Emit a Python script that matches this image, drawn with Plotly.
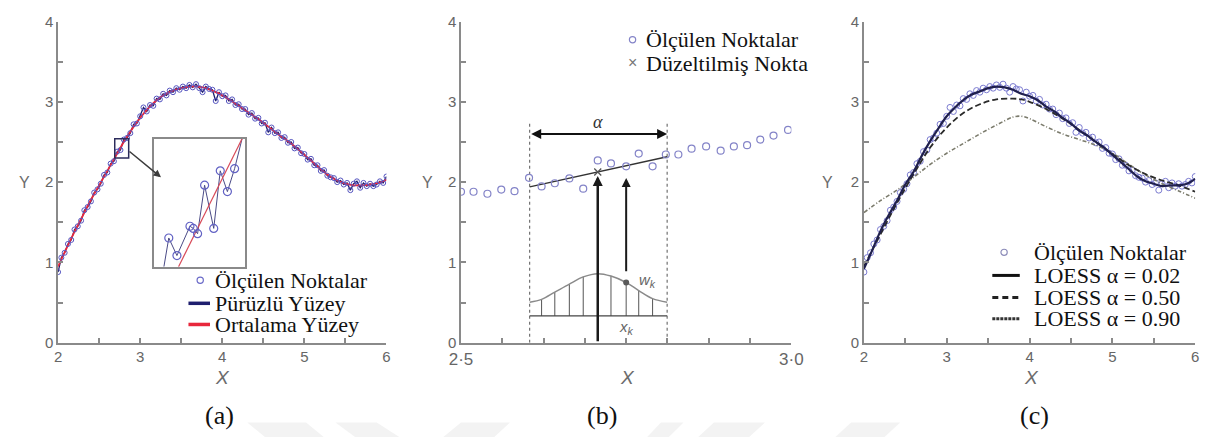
import plotly.graph_objects as go

W, H = 1219, 445

# ---------------- data ----------------
# measured surface profile (panels a and c)
meas_x = [2.00, 2.04, 2.08, 2.12, 2.16, 2.20, 2.24, 2.28, 2.32, 2.36,
          2.40, 2.44, 2.48, 2.52, 2.56, 2.60, 2.64, 2.68, 2.72, 2.76,
          2.80, 2.84, 2.88, 2.92, 2.96, 3.00, 3.04, 3.08, 3.12, 3.16,
          3.20, 3.24, 3.28, 3.32, 3.36, 3.40, 3.44, 3.48, 3.52, 3.56,
          3.60, 3.64, 3.68, 3.72, 3.76, 3.80, 3.84, 3.88, 3.92, 3.96,
          4.00, 4.04, 4.08, 4.12, 4.16, 4.20, 4.24, 4.28, 4.32, 4.36,
          4.40, 4.44, 4.48, 4.52, 4.56, 4.60, 4.64, 4.68, 4.72, 4.76,
          4.80, 4.84, 4.88, 4.92, 4.96, 5.00, 5.04, 5.08, 5.12, 5.16,
          5.20, 5.24, 5.28, 5.32, 5.36, 5.40, 5.44, 5.48, 5.52, 5.56,
          5.60, 5.64, 5.68, 5.72, 5.76, 5.80, 5.84, 5.88, 5.92, 5.96,
          6.00]
meas_y = [0.88, 1.06, 1.12, 1.23, 1.28, 1.41, 1.45, 1.52, 1.65, 1.69,
          1.76, 1.87, 1.91, 1.98, 2.09, 2.12, 2.23, 2.26, 2.38, 2.40,
          2.53, 2.55, 2.61, 2.72, 2.73, 2.82, 2.93, 2.88, 2.96, 2.95,
          3.04, 3.03, 3.10, 3.08, 3.14, 3.12, 3.17, 3.15, 3.19, 3.17,
          3.21, 3.18, 3.22, 3.17, 3.12, 3.19, 3.16, 3.15, 3.01, 3.12,
          3.07, 3.08, 3.01, 3.03, 2.96, 2.97, 2.91, 2.91, 2.84, 2.86,
          2.79, 2.80, 2.73, 2.74, 2.62, 2.68, 2.61, 2.62, 2.55, 2.56,
          2.49, 2.50, 2.42, 2.43, 2.36, 2.35, 2.28, 2.29, 2.21, 2.21,
          2.14, 2.15, 2.08, 2.06, 2.05, 2.00, 2.02, 1.97, 1.99, 1.90,
          1.98, 2.01, 1.93, 1.99, 1.95, 1.98, 1.95, 1.97, 2.01, 1.99,
          2.07]

# mean surface and LOESS fits on a 0.1 grid
grid_x = [2.0, 2.1, 2.2, 2.3, 2.4, 2.5, 2.6, 2.7, 2.8, 2.9,
          3.0, 3.1, 3.2, 3.3, 3.4, 3.5, 3.6, 3.7, 3.8, 3.9,
          4.0, 4.1, 4.2, 4.3, 4.4, 4.5, 4.6, 4.7, 4.8, 4.9,
          5.0, 5.1, 5.2, 5.3, 5.4, 5.5, 5.6, 5.7, 5.8, 5.9, 6.0]
mean_y = [0.95, 1.17, 1.38, 1.58, 1.78, 1.96, 2.14, 2.32, 2.50, 2.66,
          2.80, 2.92, 3.02, 3.09, 3.14, 3.17, 3.19, 3.19, 3.17, 3.13,
          3.08, 3.02, 2.95, 2.88, 2.81, 2.74, 2.66, 2.58, 2.51, 2.43,
          2.34, 2.25, 2.16, 2.08, 2.02, 1.98, 1.96, 1.96, 1.97, 1.99, 2.03]
loess_002 = [0.92, 1.15, 1.39, 1.59, 1.77, 1.97, 2.13, 2.33, 2.51, 2.67,
             2.82, 2.93, 3.02, 3.09, 3.13, 3.17, 3.19, 3.18, 3.15, 3.10,
             3.07, 3.02, 2.94, 2.88, 2.80, 2.73, 2.64, 2.58, 2.50, 2.43,
             2.34, 2.25, 2.16, 2.07, 2.01, 1.98, 1.95, 1.96, 1.96, 1.98, 2.04]
coarse_x = [2.0, 2.2, 2.4, 2.6, 2.8, 3.0, 3.2, 3.4, 3.6, 3.8, 3.9,
            4.0, 4.2, 4.4, 4.6, 4.8, 5.0, 5.2, 5.4, 5.6, 5.8, 6.0]
loess_050 = [0.95, 1.35, 1.74, 2.10, 2.43, 2.68, 2.86, 2.97, 3.03, 3.04, 3.03,
             3.00, 2.91, 2.79, 2.65, 2.50, 2.35, 2.21, 2.10, 2.02, 1.96, 1.88]
loess_090 = [1.62, 1.77, 1.90, 2.06, 2.22, 2.36, 2.48, 2.60, 2.71, 2.81, 2.82,
             2.79, 2.69, 2.60, 2.53, 2.46, 2.36, 2.22, 2.09, 1.98, 1.89, 1.80]

# zoomed window of panel (a)
inset_xr = [2.69, 2.86]
inset_yr = [2.30, 2.54]
inset_pts_x = [2.7173, 2.7325, 2.7568, 2.7629, 2.7710, 2.7841, 2.8011, 2.8133, 2.8266, 2.8400]
inset_pts_y = [2.354, 2.321, 2.376, 2.372, 2.362, 2.453, 2.372, 2.480, 2.441, 2.484]
inset_rough_x = [2.7082] + inset_pts_x + [2.8539]
inset_rough_y = [2.300] + inset_pts_y + [2.540]
inset_mean_x = [2.7355, 2.8539]
inset_mean_y = [2.300, 2.540]

# panel (b): local regression window
b_x = [2.500, 2.519, 2.540, 2.561, 2.581, 2.603, 2.622, 2.642, 2.664, 2.685,
       2.707, 2.727, 2.750, 2.769, 2.790, 2.810, 2.829, 2.849, 2.871, 2.893,
       2.913, 2.933, 2.953, 2.973, 2.995]
b_y = [1.880, 1.880, 1.855, 1.907, 1.887, 2.054, 1.946, 1.986, 2.046, 1.918,
       2.270, 2.233, 2.197, 2.356, 2.197, 2.344, 2.344, 2.416, 2.444, 2.392,
       2.444, 2.460, 2.530, 2.580, 2.650]
win_lo, win_hi = 2.604, 2.812
win_top = 2.76
span_y = 2.60
fit_x = [2.604, 2.812]
fit_y = [1.940, 2.316]
x_i, y_i_hat = 2.707, 2.126
x_k, y_k_hat = 2.750, 2.05
weight_base = 0.334
weight_x = [2.604, 2.622, 2.642, 2.664, 2.685, 2.707, 2.727, 2.750, 2.769, 2.790, 2.812]
weight_y = [0.505, 0.540, 0.630, 0.730, 0.820, 0.860, 0.830, 0.750, 0.650, 0.550, 0.505]
w_k = 0.75

# ---------------- helpers ----------------
def pxx(v):
    return v / W


def pxy(v):
    return 1 - v / H


AX = "#8a8a8a"
SANS = "Liberation Sans"
SERIF = "Liberation Serif"
TICKFONT = dict(family=SANS, size=15, color="#666666")
YDOM = [pxy(347), pxy(13)]


def axis(**kw):
    d = dict(showline=True, linecolor=AX, linewidth=1.5, ticks="inside", ticklen=5,
             tickwidth=1.5, tickcolor=AX, showgrid=False, zeroline=False,
             tickfont=TICKFONT, fixedrange=True)
    d.update(kw)
    return d


y_vals = [0, 0.5, 1, 1.5, 2, 2.5, 3, 3.5, 4]
y_text = ["0", "", "1", "", "2", "", "3", "", "4"]
x_vals = [2, 2.5, 3, 3.5, 4, 4.5, 5, 5.5, 6]
x_text = ["2", "", "3", "", "4", "", "5", "", "6"]
b_ticks = [2.5, 2.5625, 2.625, 2.6875, 2.75, 2.8125, 2.875, 2.9375, 3.0]
b_text = ["2·5", "", "", "", "", "", "", "", "3·0"]

NAVY = "#1e1e6e"
RED = "#e8283c"
PTS = "#5555c0"

fig = go.Figure()

# ---------------- panel (a) ----------------
fig.add_trace(go.Scatter(x=meas_x, y=meas_y, mode="lines", line=dict(color=NAVY, width=1.3),
                         xaxis="x", yaxis="y"))
fig.add_trace(go.Scatter(x=grid_x, y=mean_y, mode="lines", line=dict(color=RED, width=1.8, shape="spline"),
                         xaxis="x", yaxis="y"))
fig.add_trace(go.Scatter(x=meas_x, y=meas_y, mode="markers",
                         marker=dict(symbol="circle-open", size=5, color=PTS, line=dict(width=1)),
                         xaxis="x", yaxis="y"))

# inset
fig.add_trace(go.Scatter(x=inset_rough_x, y=inset_rough_y, mode="lines",
                         line=dict(color="#4a4a86", width=1), xaxis="x4", yaxis="y4"))
fig.add_trace(go.Scatter(x=inset_mean_x, y=inset_mean_y, mode="lines",
                         line=dict(color="#d84a58", width=1.2), xaxis="x4", yaxis="y4"))
fig.add_trace(go.Scatter(x=inset_pts_x, y=inset_pts_y, mode="markers",
                         marker=dict(symbol="circle-open", size=8, color="#6262c4", line=dict(width=1.2)),
                         xaxis="x4", yaxis="y4"))

# ---------------- panel (b) ----------------
hatch_x, hatch_y = [], []
for xv, yv in zip(weight_x[1:-1], weight_y[1:-1]):
    hatch_x += [xv, xv, None]
    hatch_y += [weight_base, yv, None]
fig.add_trace(go.Scatter(x=hatch_x, y=hatch_y, mode="lines", line=dict(color="#555555", width=1),
                         xaxis="x2", yaxis="y2"))
fig.add_trace(go.Scatter(x=[win_lo, win_hi], y=[weight_base, weight_base], mode="lines",
                         line=dict(color="#444444", width=1.2), xaxis="x2", yaxis="y2"))
fig.add_trace(go.Scatter(x=weight_x, y=weight_y, mode="lines",
                         line=dict(color="#8a8a8a", width=1.5, shape="spline"), xaxis="x2", yaxis="y2"))
for xv in (win_lo, win_hi):
    fig.add_trace(go.Scatter(x=[xv, xv], y=[0, win_top], mode="lines",
                             line=dict(color="#555555", width=1, dash="dot"), xaxis="x2", yaxis="y2"))
fig.add_trace(go.Scatter(x=fit_x, y=fit_y, mode="lines", line=dict(color="#333333", width=1.3),
                         xaxis="x2", yaxis="y2"))
fig.add_trace(go.Scatter(x=b_x, y=b_y, mode="markers",
                         marker=dict(symbol="circle-open", size=7, color="#8484c8", line=dict(width=1.2)),
                         xaxis="x2", yaxis="y2"))
fig.add_trace(go.Scatter(x=[x_i], y=[y_i_hat], mode="markers",
                         marker=dict(symbol="x-thin-open", size=7, color="#555555", line=dict(width=1.3)),
                         xaxis="x2", yaxis="y2"))
fig.add_trace(go.Scatter(x=[x_k], y=[w_k], mode="markers",
                         marker=dict(symbol="circle", size=6, color="#5a5a5a"),
                         xaxis="x2", yaxis="y2"))

# ---------------- panel (c) ----------------
fig.add_trace(go.Scatter(x=meas_x, y=meas_y, mode="markers",
                         marker=dict(symbol="circle-open", size=6, color="#7a7ad0", line=dict(width=1)),
                         xaxis="x3", yaxis="y3"))
fig.add_trace(go.Scatter(x=coarse_x, y=loess_090, mode="lines",
                         line=dict(color="#7b7b6c", width=1.6, dash="4px,2px,1px,2px", shape="spline"),
                         xaxis="x3", yaxis="y3"))
fig.add_trace(go.Scatter(x=coarse_x, y=loess_050, mode="lines",
                         line=dict(color="#2a2a2a", width=1.8, dash="6px,3px", shape="spline"),
                         xaxis="x3", yaxis="y3"))
fig.add_trace(go.Scatter(x=grid_x, y=loess_002, mode="lines",
                         line=dict(color="#20204e", width=2.2, shape="spline"),
                         xaxis="x3", yaxis="y3"))

# ---------------- annotations & shapes ----------------
ann = []
shapes = []


def text(xp, yp, s, size=14, color="#6c6c6c", family=SANS, xanchor="center", yanchor="middle"):
    ann.append(dict(x=pxx(xp), y=pxy(yp), xref="paper", yref="paper", text=s, showarrow=False,
                    xanchor=xanchor, yanchor=yanchor, font=dict(size=size, color=color, family=family)))


# axis titles
for xp in (13, 424, 832):
    text(xp, 180, "Y", size=16)
for xp in (215, 628, 1040):
    text(xp, 383, "<i>X</i>", size=19)

# captions
for xp, s in ((212, "(a)"), (602, "(b)"), (1043, "(c)")):
    text(xp, 423, s, size=26, color="#111111", family=SERIF)

# small zoom box on panel (a) and arrow to the inset
shapes.append(dict(type="rect", xref="x", yref="y", x0=inset_xr[0], x1=inset_xr[1],
                   y0=inset_yr[0], y1=inset_yr[1], line=dict(color="#2c2c5c", width=1.5)))
ann.append(dict(x=pxx(152), y=pxy(175), xref="paper", yref="paper", ax=-33, ay=-27, text="",
                showarrow=True, arrowhead=2, arrowsize=1, arrowwidth=1.5, arrowcolor="#3c3c3c"))

# panel (b) arrows and labels
ann.append(dict(x=win_hi, y=span_y, ax=win_lo, ay=span_y, xref="x2", yref="y2", axref="x2", ayref="y2",
                text="", showarrow=True, arrowhead=2, arrowside="end+start", arrowsize=1,
                arrowwidth=2, arrowcolor="#111111"))
ann.append(dict(x=x_i, y=y_i_hat - 0.05, ax=x_i, ay=0, xref="x2", yref="y2", axref="x2", ayref="y2",
                text="", showarrow=True, arrowhead=2, arrowsize=0.8, arrowwidth=2.5, arrowcolor="#1a1a1a"))
ann.append(dict(x=x_k, y=y_k_hat, ax=x_k, ay=w_k + 0.12, xref="x2", yref="y2", axref="x2", ayref="y2",
                text="", showarrow=True, arrowhead=2, arrowsize=0.9, arrowwidth=2, arrowcolor="#1a1a1a"))
ann.append(dict(x=(win_lo + win_hi) / 2, y=win_top - 0.01, xref="x2", yref="y2", text="<i>α</i>",
                showarrow=False, font=dict(size=18, color="#333333", family=SERIF)))
ann.append(dict(x=2.766, y=0.78, xref="x2", yref="y2", text="<i>w<sub>k</sub></i>", showarrow=False,
                xanchor="left", font=dict(size=15, color="#666666", family=SANS)))
ann.append(dict(x=x_k, y=0.19, xref="x2", yref="y2", text="<i>x<sub>k</sub></i>", showarrow=False,
                font=dict(size=15, color="#666666", family=SANS)))
ann.append(dict(x=x_i, y=-0.18, xref="x2", yref="y2", text="<i>x<sub>i</sub></i>", showarrow=False,
                font=dict(size=15, color="#666666", family=SANS)))

# legends
LEG = dict(size=22, color="#111111", family=SERIF)


def leg_text(xp, yp, s):
    ann.append(dict(x=pxx(xp), y=pxy(yp), xref="paper", yref="paper", text=s, showarrow=False,
                    xanchor="left", yanchor="middle", font=LEG))


def leg_circle(xp, yp, color, r=3.2):
    shapes.append(dict(type="circle", xref="paper", yref="paper", x0=pxx(xp - r), x1=pxx(xp + r),
                       y0=pxy(yp + r), y1=pxy(yp - r), line=dict(color=color, width=1.2)))


def leg_line(x0, x1, yp, color, width=3, dash="solid"):
    shapes.append(dict(type="line", xref="paper", yref="paper", x0=pxx(x0), x1=pxx(x1),
                       y0=pxy(yp), y1=pxy(yp), line=dict(color=color, width=width, dash=dash)))


# (a)
leg_circle(192, 282, "#6a6ac8")
leg_text(205, 282, "Ölçülen Noktalar")
leg_line(180, 202, 306, NAVY, 3.5)
leg_text(205, 306, "Pürüzlü Yüzey")
leg_line(180, 202, 328, RED, 3.5)
leg_text(205, 328, "Ortalama Yüzey")
# (b)
leg_circle(633, 32, "#8484c8")
leg_text(645, 32, "Ölçülen Noktalar")
text(633, 56, "×", size=16, color="#777777")
leg_text(645, 57, "Düzeltilmiş Nokta")
# (c)
leg_circle(1012, 253, "#8a8ab8")
leg_text(1040, 253, "Ölçülen Noktalar")
leg_line(1000, 1028, 277, "#111111", 3)
leg_text(1040, 277, "LOESS α = 0.02")
leg_line(1000, 1028, 300, "#222222", 3, "6px,4px")
leg_text(1040, 300, "LOESS α = 0.50")
leg_line(1000, 1028, 322, "#333333", 3, "3px,1px")
leg_text(1040, 322, "LOESS α = 0.90")

# faint background band at the bottom
for pts in (((240, 430), (300, 430), (318, 445), (258, 445)),
            ((330, 430), (372, 430), (395, 445), (350, 445)),
            ((440, 445), (492, 445), (508, 430), (458, 430)),
            ((648, 445), (670, 445), (685, 430), (662, 430)),
            ((700, 445), (752, 445), (768, 430), (716, 430)),
            ((840, 445), (890, 445), (906, 430), (856, 430))):
    path = "M " + " L ".join(f"{pxx(a):.5f},{pxy(b):.5f}" for a, b in pts) + " Z"
    shapes.append(dict(type="path", xref="paper", yref="paper", path=path,
                       fillcolor="#f3f3f3", line=dict(width=0), layer="below"))

fig.update_layout(
    width=W, height=H, margin=dict(l=0, r=0, t=0, b=0),
    paper_bgcolor="white", plot_bgcolor="white", showlegend=False,
    xaxis=axis(domain=[pxx(47), pxx(382)], range=[2, 6], tickvals=x_vals, ticktext=x_text, anchor="y"),
    yaxis=axis(domain=YDOM, range=[0, 4], tickvals=y_vals, ticktext=y_text, anchor="x"),
    xaxis2=axis(domain=[pxx(458), pxx(795)], range=[2.5, 3.0], tickvals=b_ticks, ticktext=b_text,
                anchor="y2", tickfont=dict(family=SANS, size=17, color="#666666")),
    yaxis2=axis(domain=YDOM, range=[0, 4], tickvals=y_vals, ticktext=y_text, anchor="x2"),
    xaxis3=axis(domain=[pxx(869), pxx(1207)], range=[2, 6], tickvals=x_vals, ticktext=x_text, anchor="y3"),
    yaxis3=axis(domain=YDOM, range=[0, 4], tickvals=y_vals, ticktext=y_text, anchor="x3"),
    xaxis4=dict(domain=[pxx(145), pxx(238)], range=inset_xr, anchor="y4", showline=True, mirror=True,
                linecolor="#8a8a8a", linewidth=1.5, ticks="", showticklabels=False, showgrid=False,
                zeroline=False, fixedrange=True),
    yaxis4=dict(domain=[pxy(268), pxy(135)], range=inset_yr, anchor="x4", showline=True, mirror=True,
                linecolor="#8a8a8a", linewidth=1.5, ticks="", showticklabels=False, showgrid=False,
                zeroline=False, fixedrange=True),
    annotations=ann, shapes=shapes,
)

fig.write_html("out.html")
